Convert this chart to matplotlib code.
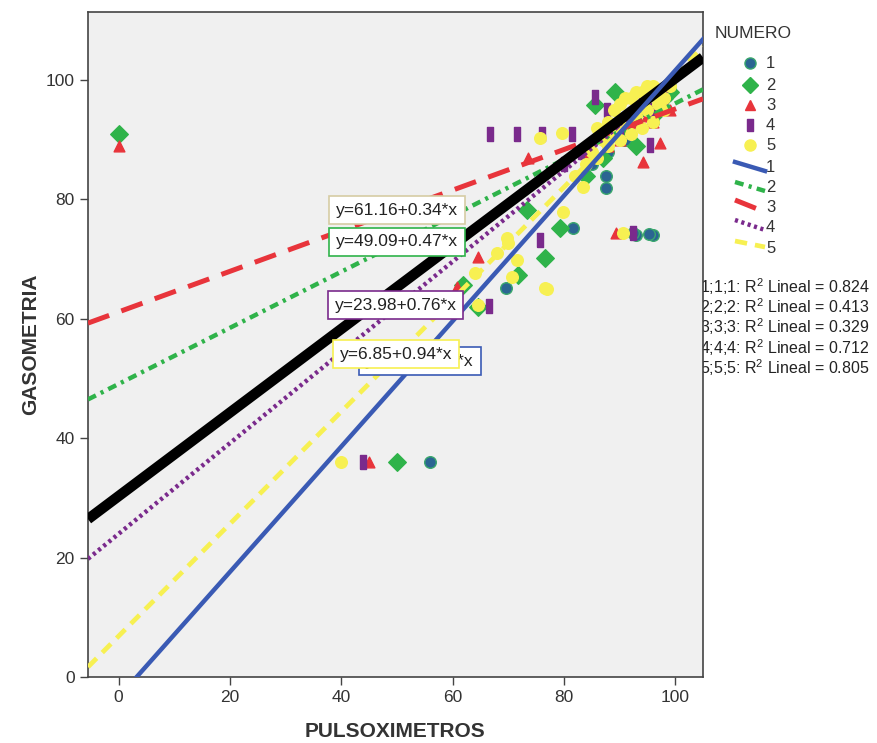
import numpy as np
import matplotlib
matplotlib.use("Agg")
import matplotlib.pyplot as plt
from matplotlib.lines import Line2D

plt.rcParams['font.family'] = ['Liberation Sans', 'DejaVu Sans']
plt.rcParams['mathtext.fontset'] = 'custom'
plt.rcParams['mathtext.rm'] = 'Liberation Sans'

# scatter values per NUMERO group (PULSOXIMETROS, GASOMETRIA)
x1 = [56, 93, 96, 87.5, 87.5, 81.7, 69.6, 95.3, 92.4, 90, 94, 97, 98, 91, 88, 96, 99, 85]
y1 = [36, 74, 74, 84, 82, 75.2, 65.2, 74.2, 74.4, 92, 95, 97, 98, 90, 88, 93, 99, 86]
x2 = [0, 50, 76.6, 71.8, 61.9, 64.6, 79.3, 89.2, 85.6, 73.4, 92, 95, 98, 90, 87, 93, 99, 84, 96]
y2 = [91, 36, 70.2, 67.3, 65.7, 62, 75.2, 98, 95.8, 78.2, 93, 95, 97, 91, 87, 89, 98, 84, 94]
x3 = [0, 45, 73.6, 97.3, 94.2, 89.4, 64.6, 60.8, 92, 95, 97, 99, 90, 88, 93, 96, 84]
y3 = [89, 36, 86.9, 89.4, 86.3, 74.4, 70.4, 65.3, 92, 94, 96, 95, 90, 89, 93, 93, 88]
x4 = [44, 66.7, 71.6, 76.1, 81.5, 66.5, 95.5, 85.6, 87.8, 92.4, 75.7, 90, 93, 96, 98, 89, 83, 94, 80]
y4 = [36, 91, 91, 91, 91, 62.1, 89.1, 97.1, 95, 74.4, 73.2, 92, 94, 95, 97, 91, 88, 96, 86]
x5 = [40, 76.6, 70, 68, 64, 70.7, 71.6, 64.6, 75.7, 79.7, 69.8, 83.5, 79.9, 90.6, 77,
      86, 88, 89, 90, 91, 92, 93, 94, 95, 96, 97, 98, 99, 87, 89, 91, 93, 95, 97,
      85, 88, 90, 92, 94, 96, 98, 82, 84, 86]
y5 = [36, 65.2, 72.7, 71, 67.7, 67, 69.8, 62.3, 90.3, 91.1, 73.5, 82.1, 77.9, 74.4, 65,
      92, 93, 95, 96, 97, 97, 98, 98, 99, 99, 98, 97, 99, 90, 91, 93, 94, 95, 96,
      88, 89, 90, 91, 92, 93, 95, 84, 86, 87]

# linear fits (intercept, slope) and R2 per group, plus the overall fit
intercepts = [-3.4, 49.09, 61.16, 23.98, 6.85]
slopes = [1.05, 0.47, 0.34, 0.76, 0.94]
r2_values = [0.824, 0.413, 0.329, 0.712, 0.805]
total_fit = (30.3, 0.70)
groups = ['1', '2', '3', '4', '5']

blue = '#3a5ab4'
green = '#2fb34a'
red = '#e8343b'
purple = '#7a2a8c'
yellow = '#f7f052'

fig = plt.figure(figsize=(8.78, 7.43), dpi=100)
ax = fig.add_axes([0.1002, 0.0888, 0.7005, 0.895])
ax.set_facecolor('#f0f0f0')

rect_marker = [(-0.42, -1), (0.42, -1), (0.42, 1), (-0.42, 1), (-0.42, -1)]
ax.scatter(x1, y1, s=70, marker='o', color='#2b6592', edgecolors='#3aa76d', linewidths=1, zorder=2)
ax.scatter(x2, y2, s=80, marker='D', color=green, edgecolors=green, zorder=2)
ax.scatter(x3, y3, s=60, marker='^', color=red, edgecolors=red, zorder=2)
ax.scatter(x4, y4, s=90, marker=rect_marker, color=purple, edgecolors=purple, zorder=2)
ax.scatter(x5, y5, s=70, marker='o', color=yellow, edgecolors=yellow, zorder=2)

xs = np.array([-5.5, 105])
styles = [
    dict(color=green, lw=3.2, ls=(0, (2.0, 1.2, 0.7, 1.2))),
    dict(color=red, lw=3.6, ls=(0, (4.5, 2.6))),
    dict(color=purple, lw=3.2, ls=(0, (0.7, 0.8))),
    dict(color=yellow, lw=3.4, ls=(0, (2.6, 1.7))),
]
for (b, m), st in zip(list(zip(intercepts, slopes))[1:], styles):
    ax.plot(xs, b + m * xs, zorder=3, **st)
ax.plot(xs, total_fit[0] + total_fit[1] * xs, color='black', lw=7.5, zorder=4,
        solid_capstyle='butt')
ax.plot(xs, intercepts[0] + slopes[0] * xs, color=blue, lw=3.2, zorder=5)

# equation boxes
box_pos = [(54.1, 52.9), (50.0, 72.9), (50.0, 78.2), (49.8, 62.3), (49.9, 54.1)]
box_edge = [blue, green, '#d6cca4', purple, yellow]
for i in [0, 2, 1, 3, 4]:
    b, m = intercepts[i], slopes[i]
    ax.text(box_pos[i][0], box_pos[i][1], f'y={b:.2f}+{m:.2f}*x'.replace('-3.40', '-3.4'),
            ha='center', va='center', fontsize=12.5, color='#222', zorder=6 + i,
            bbox=dict(boxstyle='square,pad=0.38', fc='white', ec=box_edge[i], lw=1.2))

ax.set_xlim(-5.5, 105)
ax.set_ylim(0, 111.4)
ax.set_xticks([0, 20, 40, 60, 80, 100])
ax.set_yticks([0, 20, 40, 60, 80, 100])
ax.tick_params(direction='out', length=6, width=1, colors='#444', labelsize=12.5, labelcolor='#333')
for sp in ax.spines.values():
    sp.set_color('#444')
    sp.set_linewidth(1.2)
ax.set_xlabel('PULSOXIMETROS', fontsize=15, fontweight='bold', color='#333', labelpad=12)
ax.set_ylabel('GASOMETRIA', fontsize=15, fontweight='bold', color='#333', labelpad=4)

# legend drawn at figure pixel positions
W, H = 878, 743
def fx(px):
    return px / W
def fy(py):
    return 1 - py / H

fig.text(fx(715), fy(33), 'NUMERO', fontsize=12.5, color='#333', va='center')
mk_styles = [
    dict(marker='o', color='#2b6592', markeredgecolor='#3aa76d', markersize=8),
    dict(marker='D', color=green, markersize=8),
    dict(marker='^', color=red, markersize=7),
    dict(marker=rect_marker, color=purple, markersize=9),
    dict(marker='o', color=yellow, markersize=8),
]
mk_y = [63, 85, 105, 125, 145]
for g, st, py in zip(groups, mk_styles, mk_y):
    fig.add_artist(Line2D([fx(750)], [fy(py)], transform=fig.transFigure, ls='none', **st))
    fig.text(fx(766), fy(py), g, fontsize=12, color='#333', va='center')

ln_styles = [dict(color=blue, lw=3.2, ls='-')] + styles
ln_y = [(162, 171), (182, 191), (200, 212), (220, 230), (241, 247)]
lab_y = [167, 187, 208, 228, 248]
for g, st, (y0, y1_), py in zip(groups, ln_styles, ln_y, lab_y):
    fig.add_artist(Line2D([fx(735), fx(765)], [fy(y0), fy(y1_)], transform=fig.transFigure, **st))
    fig.text(fx(766), fy(py), g, fontsize=12, color='#333', va='center')

r2_y = [287, 307, 327, 348, 368]
for g, r2, py in zip(groups, r2_values, r2_y):
    fig.text(fx(700), fy(py), f'{g};{g};{g}: R$^{{2}}$ Lineal = {r2:.3f}',
             fontsize=11.5, color='#222', va='center', zorder=-1)

fig.savefig('out.png', dpi=100, facecolor='white')
